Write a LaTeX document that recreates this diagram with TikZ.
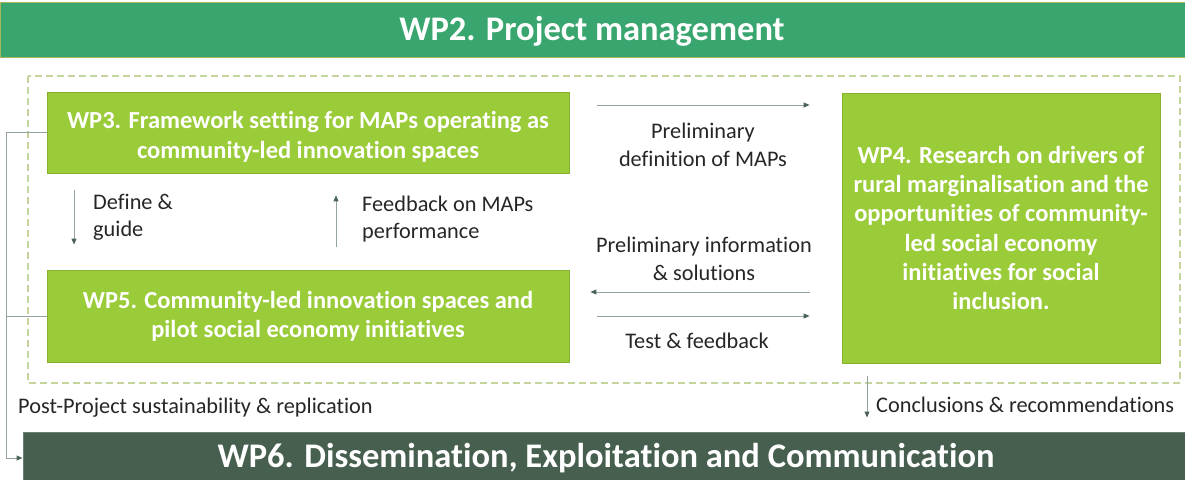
\documentclass[tikz,border=0pt]{standalone}
\usepackage{fontspec}
\setmainfont{Carlito}[Ligatures=NoCommon]
\usetikzlibrary{arrows.meta}
\definecolor{mgmtgreen}{HTML}{38A66E}
\definecolor{mgmtedge}{HTML}{A9B65C}
\definecolor{wpgreen}{HTML}{9ACB38}
\definecolor{wpedge}{HTML}{86B02E}
\definecolor{dissgreen}{HTML}{465F4F}
\definecolor{dashcol}{HTML}{C4D69E}
\definecolor{linecol}{HTML}{94A3A0}
\definecolor{tipcol}{HTML}{4A6355}
\definecolor{labelcol}{HTML}{262626}
\begin{document}
\begin{tikzpicture}[x=1pt,y=-1pt,
  bar/.style={draw, line width=1pt, inner sep=0pt},
  bartext/.style={text=white, font=\bfseries\fontsize{34.5}{40}\selectfont},
  wpbox/.style={draw=wpedge, line width=0.8pt, fill=wpgreen, text=white, align=center,
    font=\bfseries\fontsize{24.5}{29.3}\selectfont, inner sep=0pt},
  lbl/.style={text=labelcol, font=\fontsize{22.3}{27.5}\selectfont, align=left, inner sep=0pt},
  flow/.style={draw=linecol, line width=1pt,
    -{Triangle[length=6pt,width=5pt,color=tipcol]}},
  link/.style={draw=linecol, line width=1pt}]
\useasboundingbox (0,0) rectangle (1185,479);

% management bar
\node[bar, draw=mgmtedge, fill=mgmtgreen, minimum width=1185pt, minimum height=55pt]
  (wp2) at (592.5,29.5) {};
\node[bartext] (wp2t) at (592,31) {WP2. Project management};

% dashed frame around the core work packages
\draw[dashcol, line width=1.5pt, dash pattern=on 7pt off 4pt] (28,76) rectangle (1180,383);

% work packages
\node[wpbox, minimum width=522pt, minimum height=81pt] (wp3) at (308,132.5)
  {\rule{0pt}{26pt}WP3. Framework setting for MAPs operating as\\community-led innovation spaces};
\node[wpbox, minimum width=522pt, minimum height=92pt] (wp5) at (308,316)
  {WP5. Community-led innovation spaces and\\pilot social economy initiatives};
\node[wpbox, minimum width=318pt, minimum height=270pt] (wp4) at (1001,228)
  {WP4. Research on drivers of\\rural marginalisation and the\\opportunities of community-\\led social economy\\initiatives for social\\inclusion.};

% dissemination bar
\node[bar, draw=dissgreen!80!white, fill=dissgreen, minimum width=1166pt, minimum height=52pt]
  (wp6) at (606,458) {};
\node[bartext] (wp6t) at (606,458)
  {WP6. Dissemination, Exploitation and Communication};

% helper rows and columns for the connectors
\coordinate (rowA) at (0,105);
\coordinate (rowB) at (0,292);
\coordinate (rowC) at (0,316);
\coordinate (colA) at (74,0);
\coordinate (colB) at (336,0);
\coordinate (colC) at (867,0);
\coordinate (busx) at (6,0);

% WP3 <-> WP4
\draw[flow, shorten <=28pt, shorten >=32pt] (wp3.east |- rowA) -- (wp4.west |- rowA);
\node[lbl, align=center] (l1) at (703,145) {Preliminary\\definition of MAPs};

% WP4 <-> WP5
\draw[flow, shorten <=32pt, shorten >=21pt] (wp4.west |- rowB) -- (wp5.east |- rowB);
\draw[flow, shorten <=28pt, shorten >=32pt] (wp5.east |- rowC) -- (wp4.west |- rowC);
\node[lbl, align=center] (l2) at (704,259) {Preliminary information\\\& solutions};
\node[lbl] (l3) at (697,341) {Test \& feedback};

% WP3 <-> WP5
\draw[flow, shorten <=17pt, shorten >=25pt] (wp3.south -| colA) -- (wp5.north -| colA);
\draw[flow, shorten <=23pt, shorten >=22pt] (wp5.north -| colB) -- (wp3.south -| colB);
\node[lbl, anchor=west] (l4) at (93,217) {Define \&\\guide};
\node[lbl, anchor=west] (l5) at (362,219) {Feedback on MAPs\\performance};

% WP4 -> WP6
\draw[flow, shorten <=13pt, shorten >=14pt] (wp4.south -| colC) -- (wp6.north -| colC);
\node[lbl, anchor=west] (l6) at (876,405) {Conclusions \& recommendations};

% WP3, WP5 -> WP6
\draw[link] (wp5.west) -- (wp5.west -| busx);
\draw[flow] (wp3.west) -- (wp3.west -| busx) |- (wp6.west);
\node[lbl, anchor=west] (l7) at (18,408) {Post-Project sustainability \& replication};
\end{tikzpicture}
\end{document}
